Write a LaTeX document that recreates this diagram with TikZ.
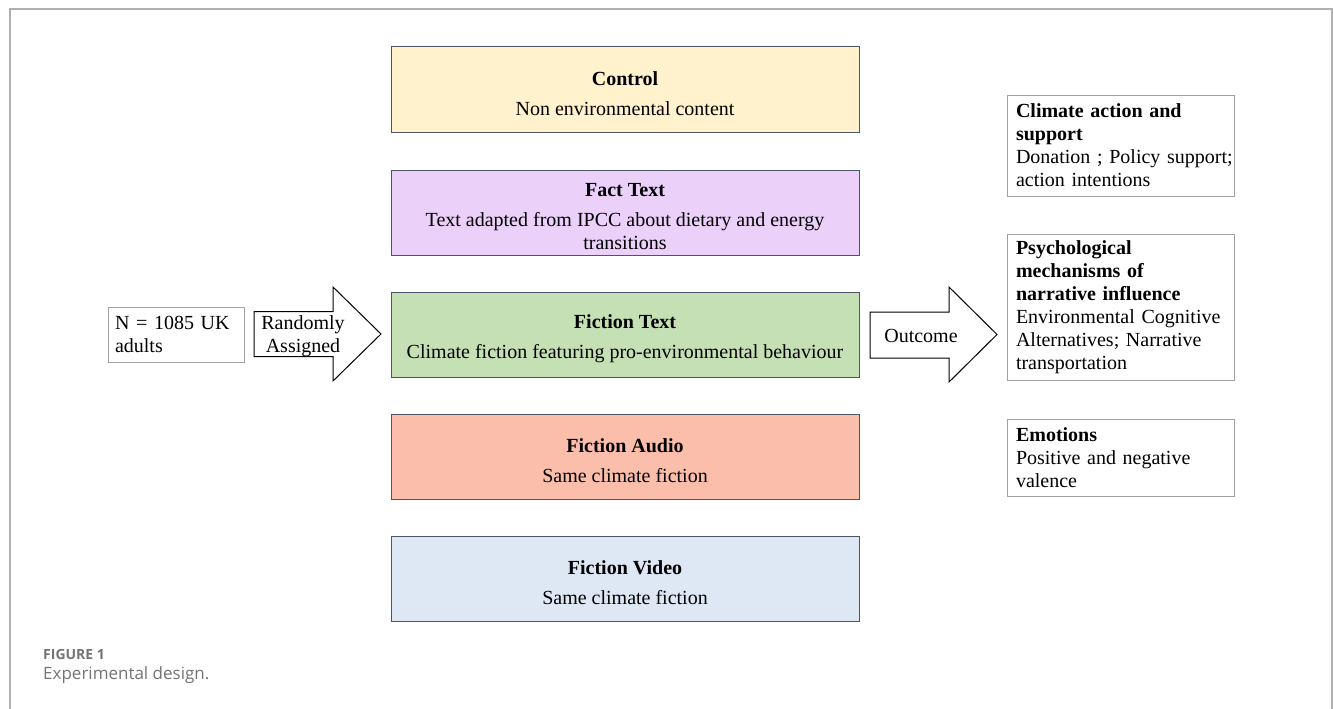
\documentclass[tikz,border=0pt]{standalone}
\usepackage{fontspec}
\setmainfont{Liberation Serif}
\newfontfamily\capfont{Open Sans}
\definecolor{ctrlfill}{HTML}{FFF2CC}
\definecolor{factfill}{HTML}{EBD0FA}
\definecolor{ftextfill}{HTML}{C5E0B4}
\definecolor{faudiofill}{HTML}{FBBEAB}
\definecolor{fvideofill}{HTML}{DDE8F4}
\definecolor{condborder}{HTML}{4A5568}
\definecolor{grayborder}{HTML}{A0A0A0}
\definecolor{framegray}{HTML}{B0B0B0}
\definecolor{capgray}{HTML}{737373}
\tikzset{
  bodyfont/.style={font=\fontsize{20}{23}\selectfont},
  condbox/.style={draw=condborder, line width=1pt, minimum width=468pt, minimum height=85pt,
    inner sep=0pt},
  condtext/.style={align=center, inner sep=0pt, bodyfont, yshift=-4pt},
  outbox/.style={draw=grayborder, line width=1pt, minimum width=227pt, text width=209pt,
    align=left, inner xsep=9pt, inner ysep=0pt, bodyfont},
  blockarrow/.style={draw=black, line width=1pt, fill=white, line join=miter},
  arrowlabel/.style={align=center, inner sep=0pt, bodyfont},
}
\begin{document}
\begin{tikzpicture}[x=1pt,y=-1pt]
\useasboundingbox (0,0) rectangle (1333,709);
% outer frame
\draw[framegray, line width=1.5pt] (10,709) -- (10,9) -- (1332,9) -- (1332,709);

% condition boxes
\node[condbox, fill=ctrlfill, label={[condtext]center:{\textbf{Control}\\[7pt]Non environmental content}}] (ctrl) at (625,89.5) {};
\node[condbox, fill=factfill, label={[condtext]center:{\textbf{Fact Text}\\[7pt]Text adapted from IPCC about dietary and energy\\transitions}}] (fact) at (625,212.5) {};
\node[condbox, fill=ftextfill, label={[condtext]center:{\textbf{Fiction Text}\\[7pt]Climate fiction featuring pro-environmental behaviour}}] (ftext) at (625,334.5) {};
\node[condbox, fill=faudiofill, label={[condtext]center:{\textbf{Fiction Audio}\\[7pt]Same climate fiction}}] (faudio) at (625,456.5) {};
\node[condbox, fill=fvideofill, label={[condtext]center:{\textbf{Fiction Video}\\[7pt]Same climate fiction}}] (fvideo) at (625,578.5) {};

% sample box
\node[draw=grayborder, line width=1pt, minimum width=136pt, minimum height=55pt, text width=122pt,
  align=left, inner xsep=7pt, inner ysep=0pt, bodyfont]
  (sample) at (176,334.5) {N = 1085 UK\\adults};

% randomly assigned arrow
\draw[blockarrow] (254,311.5) -- (333,311.5) -- (333,287) -- (381,334) -- (333,381) -- (333,356.5) -- (254,356.5) -- cycle;
\node[arrowlabel] (rand) at (303,336) {Randomly\\Assigned};

% outcome arrow
\draw[blockarrow] (870,312) -- (949,312) -- (949,287) -- (997,334.5) -- (949,382) -- (949,358) -- (870,358) -- cycle;
\node[arrowlabel] (outc) at (921,336) {Outcome};

% outcome boxes
\node[outbox, minimum height=101pt] (climate) at (1120.5,145.5)
  {\textbf{Climate action and}\\\textbf{support}\\\mbox{Donation ; Policy support;}\\action intentions};
\node[outbox, minimum height=146pt] (psych) at (1120.5,307)
  {\textbf{Psychological}\\\textbf{mechanisms of}\\\mbox{\textbf{narrative influence}}\\\mbox{Environmental Cognitive}\\\mbox{Alternatives; Narrative}\\transportation};
\node[outbox, minimum height=77pt] (emot) at (1120.5,457.5)
  {\textbf{Emotions}\\\mbox{Positive and negative}\\valence};

% caption
\node[anchor=base west, inner sep=0pt, text=capgray, font=\capfont\bfseries\fontsize{14}{16}\selectfont] (figlabel) at (43,659) {FIGURE 1};
\node[anchor=base west, inner sep=0pt, text=capgray, font=\capfont\fontsize{17}{20}\selectfont] (figcap) at (43,679) {Experimental design.};
\end{tikzpicture}
\end{document}
